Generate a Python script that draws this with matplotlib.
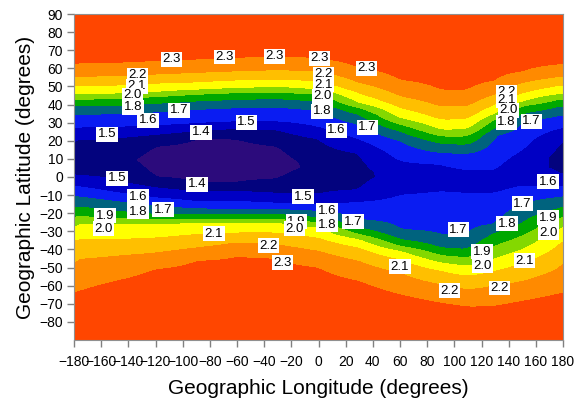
import numpy as np
import matplotlib
matplotlib.use("Agg")
import matplotlib.pyplot as plt

plt.rcParams['font.family'] = ['Liberation Sans', 'DejaVu Sans']

nan = np.nan

# Longitudes where the contour positions were read (degrees)
lon_nodes = [-180, -150, -120, -90, -60, -30, 0, 30, 60, 90, 110, 130, 150, 180]

# Outer contour levels and their latitudes at each node
outer_levels = [1.7, 1.8, 1.9, 2.0, 2.1, 2.2, 2.3]
north_lat = [
    [34.5, 35.0, 36.0, 37.4, 38.3, 38.7, 37.0, 29.0, 20.0, 13.5, 13.0, 23.0, 31.0, 34.5],
    [39.3, 39.6, 40.7, 42.0, 42.9, 43.3, 42.0, 34.6, 25.4, 18.6, 18.0, 27.5, 35.2, 39.5],
    [42.9, 43.3, 44.4, 45.7, 46.6, 47.0, 45.7, 38.3, 29.1, 22.6, 22.6, 32.0, 39.3, 43.5],
    [45.7, 46.3, 47.2, 48.5, 49.4, 50.0, 48.5, 41.1, 32.8, 26.3, 26.7, 35.2, 42.0, 46.3],
    [50.3, 50.7, 51.8, 52.5, 53.6, 54.0, 53.1, 46.3, 38.3, 31.9, 32.2, 40.2, 46.6, 51.0],
    [55.5, 55.9, 56.8, 57.7, 58.6, 59.2, 58.6, 52.2, 44.8, 39.2, 39.2, 45.7, 52.2, 55.8],
    [62.9, 63.2, 64.2, 65.1, 66.0, 66.9, 65.8, 60.5, 54.0, 48.5, 48.3, 53.5, 58.6, 62.7],
]
south_lat = [
    [-10.6, -13.4, -16.1, -17.6, -18.0, -18.0, -19.0, -23.5, -29.0, -32.0, -32.0, -26.0, -15.0, -11.0],
    [-16.1, -18.9, -20.7, -20.7, -20.8, -20.7, -22.6, -28.1, -34.6, -39.2, -40.1, -31.0, -25.4, -17.0],
    [-21.7, -22.6, -23.5, -23.5, -23.5, -23.5, -25.4, -31.8, -38.3, -43.4, -44.7, -38.0, -32.7, -22.6],
    [-26.3, -26.3, -26.3, -25.4, -25.4, -25.4, -28.1, -34.6, -41.0, -47.5, -49.4, -45.0, -40.1, -28.1],
    [-34.6, -34.6, -33.7, -31.8, -30.9, -30.9, -33.7, -39.2, -45.7, -52.1, -54.9, -52.0, -47.5, -35.5],
    [-45.7, -43.8, -42.0, -39.2, -36.4, -37.4, -41.0, -46.6, -53.0, -59.5, -62.3, -60.0, -57.7, -49.4],
    [-64.1, -57.7, -51.2, -46.6, -44.2, -45.3, -50.3, -57.7, -65.0, -69.7, -71.9, -71.5, -68.7, -64.1],
]

# Inner (low value) trough
center_lat = [11, 10, 9, 9, 9, 8, 5, 3, 0, 0, -2, -2, 5, 11]
min_val = [1.46, 1.44, 1.36, 1.33, 1.33, 1.36, 1.42, 1.47, 1.53, 1.55, 1.55, 1.55, 1.53, 1.46]
north_14 = [nan, nan, 17, 21, 21, 17, nan, nan, nan, nan, nan, nan, nan, nan]
south_14 = [nan, nan, 0, -3, -3, -1, nan, nan, nan, nan, nan, nan, nan, nan]
north_15 = [20.5, 21.5, 23.5, 25.5, 27, 26, 21, 13, nan, nan, nan, nan, nan, 20.5]
south_15 = [1, -2, -6, -8, -8, -9, -9.5, -7, nan, nan, nan, nan, nan, 1]
north_16 = [27.5, 28, 28.5, 30, 31, 31, 28, 21, 9, 7, 4, 4, 15, 27.5]
south_16 = [-5, -8.5, -11.5, -13.5, -13.5, -14.5, -15, -14, -10, -8, -9, -9, -5, -5]
pole_val = 2.5

# Contour labels (lon, lat, text)
labels = [
    (-108, 65, "2.3"), (-69, 66.2, "2.3"), (-32.7, 66.7, "2.3"), (0.4, 65.6, "2.3"), (35, 60, "2.3"),
    (-133.6, 56.2, "2.2"), (-133.6, 50.1, "2.1"), (-136.6, 45.2, "2.0"), (-136.6, 38.5, "1.8"),
    (-125.5, 31.3, "1.6"), (-102.7, 36.8, "1.7"), (-155.7, 23.6, "1.5"), (-86.5, 24.7, "1.4"),
    (-53.3, 30.2, "1.5"),
    (3.4, 56.8, "2.2"), (3.4, 50.7, "2.1"), (2.6, 44.6, "2.0"), (2.6, 36.3, "1.8"),
    (13, 25.8, "1.6"), (35.8, 27.4, "1.7"),
    (138.1, 46.8, "2.2"), (138.1, 42.4, "2.1"), (139.6, 36.8, "2.0"), (138.1, 30.2, "1.8"),
    (156.5, 30.7, "1.7"),
    (-148.3, -0.8, "1.5"), (-89.4, -4.1, "1.4"), (-132.9, -10.8, "1.6"), (-132.9, -19.1, "1.8"),
    (-114.5, -18, "1.7"), (-157.2, -21.3, "1.9"), (-158, -28.5, "2.0"),
    (-11.4, -10.8, "1.5"), (-16.5, -24.6, "1.9"), (-18, -28.5, "2.0"), (6.3, -18.5, "1.6"),
    (6.3, -26.3, "1.8"), (25.4, -24.6, "1.7"),
    (-76.9, -31.3, "2.1"), (-37.1, -37.9, "2.2"), (-26.8, -47.3, "2.3"),
    (60, -49.5, "2.1"), (102.8, -29, "1.7"), (120.4, -41.2, "1.9"), (120.4, -49, "2.0"),
    (96.1, -62.8, "2.2"), (133, -61.2, "2.2"), (151.4, -46.2, "2.1"), (138.8, -25.7, "1.8"),
    (149.9, -14.7, "1.7"), (169, -2.5, "1.6"), (169, -22.4, "1.9"), (169, -30.7, "2.0"),
]

band_levels = [1.0, 1.4, 1.5, 1.6, 1.7, 1.8, 1.9, 2.0, 2.1, 2.2, 2.3, 3.0]
band_colors = ['#2c0b7c', '#03037e', '#0000c4', '#0a1cf2', '#00637e', '#00a800',
               '#84d800', '#ffff00', '#ffbf00', '#ff8a00', '#ff4600']

# build the grid column by column from the read contour positions
lat_f = np.linspace(-90, 90, 361)
lon_f = np.linspace(-180, 180, 721)
cols = []
for k in range(len(lon_nodes)):
    pts = [(-90.0, pole_val)]
    for lev, row in zip(outer_levels[::-1], south_lat[::-1]):
        pts.append((row[k], lev))
    for lev, row in ((1.6, south_16), (1.5, south_15), (1.4, south_14)):
        if not np.isnan(row[k]):
            pts.append((row[k], lev))
    pts.append((center_lat[k], min_val[k]))
    for lev, row in ((1.4, north_14), (1.5, north_15), (1.6, north_16)):
        if not np.isnan(row[k]):
            pts.append((row[k], lev))
    for lev, row in zip(outer_levels, north_lat):
        pts.append((row[k], lev))
    pts.append((90.0, pole_val))
    la, va = zip(*pts)
    cols.append(np.interp(lat_f, la, va))
cols = np.array(cols).T
Z = np.array([np.interp(lon_f, lon_nodes, r) for r in cols])

# soften the kinks between nodes
w = 21
Zp = np.pad(Z, ((0, 0), (w // 2, w // 2)), mode='wrap')
ker = np.ones(w) / w
Z = np.array([np.convolve(r, ker, mode='valid') for r in Zp])

fig = plt.figure(figsize=(5.81, 4.03), dpi=100)
ax = fig.add_axes([74 / 581, 63 / 403, 489 / 581, 326 / 403])
ax.contourf(lon_f, lat_f, Z, levels=band_levels, colors=band_colors, antialiased=False)

for lo, la, t in labels:
    ax.text(lo, la, t, ha='center', va='center', fontsize=9.5, color='black',
            bbox=dict(boxstyle='square,pad=0.1', fc='white', ec='none'))

ax.set_xlim(-180, 180)
ax.set_ylim(-90, 90)
ax.set_xticks(range(-180, 181, 20))
ax.set_yticks(range(-80, 91, 10))
ax.tick_params(direction='out', length=5, width=1, color='#808080', labelsize=10,
               pad=3)
ax.tick_params(axis='x', pad=6)
for s in ax.spines.values():
    s.set_color('#909090')
    s.set_linewidth(0.8)

ax.set_xlabel('Geographic Longitude (degrees)', fontsize=15, labelpad=7)
ax.set_ylabel('Geographic Latitude (degrees)', fontsize=15, labelpad=3)

fig.savefig('out.png', dpi=100)
